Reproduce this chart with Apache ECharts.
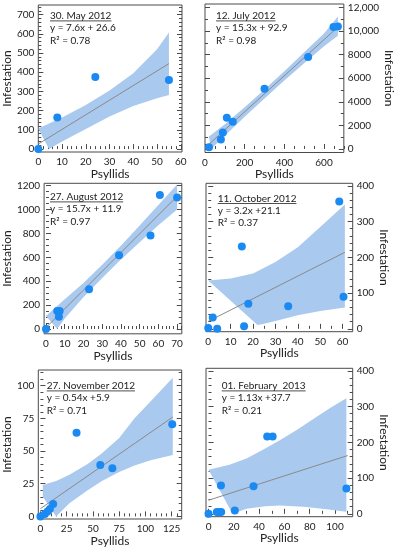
<!DOCTYPE html>
<html><head><meta charset="utf-8">
<script src="https://cdn.jsdelivr.net/npm/echarts@6/dist/echarts.min.js"></script>
<style>html,body{margin:0;padding:0;background:#fff}#c{width:396px;height:550px}</style>
</head><body><div id="c"></div>
<script>
// ---------- DATA ----------
// Panel 1
const p1Title = '30. May 2012', p1Eq = 'y = 7.6x + 26.6', p1R2 = 'R² = 0.78';
const p1X = [0, 8, 24, 55];
const p1Y = [0, 165, 375, 360];
const p1LineX = [0, 55], p1LineY = [26.6, 445];
const p1UpX = [0, 10, 20, 30, 40, 50, 55], p1UpY = [107, 165, 230, 305, 395, 520, 607];
const p1LoX = [4.5, 10, 20, 30, 40, 50, 55], p1LoY = [0, 40, 105, 170, 225, 265, 281];
const p1XTicks = [0, 10, 20, 30, 40, 50, 60];
const p1YTicks = [0, 100, 200, 300, 400, 500, 600, 700];
const p1YLabels = ['0', '100', '200', '300', '400', '500', '600', '700'];

// Panel 2
const p2Title = '12. July 2012', p2Eq = 'y = 15.3x + 92.9', p2R2 = 'R² = 0.98';
const p2X = [20, 80, 90, 110, 140, 300, 520, 648, 670];
const p2Y = [150, 800, 1400, 2650, 2300, 5100, 7800, 10350, 10400];
const p2LineX = [15, 675], p2LineY = [322, 10420];
const p2UpX = [20, 100, 200, 300, 400, 500, 600, 670], p2UpY = [1050, 2100, 3550, 5050, 6600, 8200, 9800, 11250];
const p2LoX = [30, 100, 200, 300, 400, 500, 600, 670], p2LoY = [0, 1130, 2730, 4280, 5800, 7270, 8720, 9600];
const p2XTicks = [0, 200, 400, 600];
const p2YTicks = [0, 2000, 4000, 6000, 8000, 10000, 12000];
const p2YLabels = ['0', '2000', '4000', '6000', '8000', '10,000', '12,000'];

// Panel 3
const p3Title = '27. August 2012', p3Eq = 'y = 15.7x + 11.9', p3R2 = 'R² = 0.97';
const p3X = [0, 6, 7.3, 6.9, 23, 39, 55.8, 60.8, 70];
const p3Y = [0, 151, 151, 103, 332, 617, 784, 1122, 1102];
const p3LineX = [0, 70], p3LineY = [12, 1111];
const p3UpX = [0, 10, 20, 30, 40, 50, 60, 70], p3UpY = [110, 249, 386, 538, 698, 867, 1039, 1210];
const p3LoX = [6, 10, 20, 30, 40, 50, 60, 70], p3LoY = [0, 89, 266, 428, 582, 727, 869, 1000];
const p3XTicks = [0, 10, 20, 30, 40, 50, 60, 70];
const p3YTicks = [0, 200, 400, 600, 800, 1000, 1200];
const p3YLabels = ['0', '200', '400', '600', '800', '1000', '1200'];

// Panel 4
const p4Title = '11. October 2012', p4Eq = 'y = 3.2x +21.1', p4R2 = 'R² = 0.37';
const p4X = [0, 2, 4, 15, 16, 17.9, 35.7, 58.5, 60.4];
const p4Y = [2, 32, 0, 230, 7, 70, 63, 356, 90];
const p4LineX = [0, 61], p4LineY = [21, 214];
const p4UpX = [0, 10, 20, 30, 40, 50, 61], p4UpY = [135, 141, 155, 187, 228, 285, 348];
const p4LoX = [22, 25, 30, 40, 50, 61], p4LoY = [11, 14, 22, 38, 50, 60];
const p4XTicks = [0, 10, 20, 30, 40, 50, 60];
const p4YTicks = [0, 100, 200, 300, 400];
const p4YLabels = ['0', '100', '200', '300', '400'];

// Panel 5
const p5Title = '27. November 2012', p5Eq = 'y = 0.54x +5.9', p5R2 = 'R² = 0.71';
const p5X = [0, 4.3, 6.8, 9, 12.1, 34.4, 57, 68.5, 125.5];
const p5Y = [0, 1.8, 3.8, 5.6, 9.5, 63.9, 39.4, 36.9, 70.5];
const p5LineX = [0, 126], p5LineY = [5.9, 76];
const p5UpX = [2.3, 15, 27.6, 45, 58.6, 75, 89.6, 105, 126], p5UpY = [24, 27, 31.8, 40, 48.3, 60, 75, 88, 106];
const p5LoX = [2.3, 15, 27.6, 45, 58.6, 75, 89.6, 105, 126], p5LoY = [15, 0, 10, 20, 27, 34, 39, 43, 47];
const p5XTicks = [0, 25, 50, 75, 100, 125];
const p5YTicks = [0, 25, 50, 75, 100];
const p5YLabels = ['0', '25', '50', '75', '100'];

// Panel 6
const p6Title = '01. February  2013', p6Eq = 'y = 1.13x +37.7', p6R2 = 'R² = 0.21';
const p6X = [0, 6.6, 8.2, 10, 9.8, 20.8, 35.6, 46.4, 50.7, 109];
const p6Y = [0, 5, 5, 5, 79, 9, 77, 216, 216, 71];
const p6LineX = [0, 110], p6LineY = [38, 163];
const p6UpX = [0, 16.6, 30, 43, 56, 69.4, 82, 95.8, 109], p6UpY = [123, 137, 155, 179, 205, 234, 263, 295, 323];
const p6LoX = [19, 30, 45, 56, 75, 90, 109], p6LoY = [0, 14, 21, 23, 20, 14, 6];
const p6XTicks = [0, 20, 40, 60, 80, 100];
const p6YTicks = [0, 100, 200, 300, 400];
const p6YLabels = ['0', '100', '200', '300', '400'];

const xName = 'Psyllids', yName = 'Infestation';

// ---------- LAYOUT ----------
const panels = [
  {t: p1Title, e: p1Eq, r: p1R2, x: p1X, y: p1Y, lx: p1LineX, ly: p1LineY, ux: p1UpX, uy: p1UpY, ox: p1LoX, oy: p1LoY, xt: p1XTicks, yt: p1YTicks, yl: p1YLabels},
  {t: p2Title, e: p2Eq, r: p2R2, x: p2X, y: p2Y, lx: p2LineX, ly: p2LineY, ux: p2UpX, uy: p2UpY, ox: p2LoX, oy: p2LoY, xt: p2XTicks, yt: p2YTicks, yl: p2YLabels},
  {t: p3Title, e: p3Eq, r: p3R2, x: p3X, y: p3Y, lx: p3LineX, ly: p3LineY, ux: p3UpX, uy: p3UpY, ox: p3LoX, oy: p3LoY, xt: p3XTicks, yt: p3YTicks, yl: p3YLabels},
  {t: p4Title, e: p4Eq, r: p4R2, x: p4X, y: p4Y, lx: p4LineX, ly: p4LineY, ux: p4UpX, uy: p4UpY, ox: p4LoX, oy: p4LoY, xt: p4XTicks, yt: p4YTicks, yl: p4YLabels},
  {t: p5Title, e: p5Eq, r: p5R2, x: p5X, y: p5Y, lx: p5LineX, ly: p5LineY, ux: p5UpX, uy: p5UpY, ox: p5LoX, oy: p5LoY, xt: p5XTicks, yt: p5YTicks, yl: p5YLabels},
  {t: p6Title, e: p6Eq, r: p6R2, x: p6X, y: p6Y, lx: p6LineX, ly: p6LineY, ux: p6UpX, uy: p6UpY, ox: p6LoX, oy: p6LoY, xt: p6XTicks, yt: p6YTicks, yl: p6YLabels}
];
const layout = [
  {left: 37, top: 5, width: 145, height: 147, xmin: 0, xmax: 60.5, ymin: -15, ymax: 750, side: 'left', xm: 2, ym: 20, xng: 14, yng: 22, tx: 50, ty: 15.7},
  {left: 205, top: 4, width: 144, height: 148.5, xmin: 0, xmax: 700, ymin: -300, ymax: 12300, side: 'right', xm: 50, ym: 1000, xng: 14, yng: 33, tx: 216, ty: 15.7},
  {left: 39.8, top: 183.3, width: 142, height: 150.5, xmin: -1, xmax: 72.5, ymin: -40, ymax: 1220, side: 'left', xm: 2, ym: 50, xng: 13, yng: 25, tx: 50, ty: 196.7},
  {left: 206, top: 183.3, width: 146.7, height: 148.4, xmin: -1, xmax: 64.5, ymin: -8, ymax: 407, side: 'right', xm: 5, ym: 20, xng: 15, yng: 23, tx: 217.7, ty: 198.3},
  {left: 35, top: 370, width: 146.7, height: 149, xmin: -2, xmax: 134.5, ymin: -2, ymax: 112, side: 'left', xm: 5, ym: 5, xng: 15, yng: 20, tx: 46.7, ty: 385.7},
  {left: 206, top: 368.3, width: 146.7, height: 148.4, xmin: -2, xmax: 114, ymin: -8, ymax: 407, side: 'right', xm: 10, ym: 20, xng: 14, yng: 22, tx: 221.7, ty: 385.7}
];

const FONT = 'Lato';
const AX = '#4a4a4a', TXT = '#222';
const BAND = '#a9c9ee', DOT = '#1a8af2', REG = '#8a8a8a';

function minorList(min, max, step, major) {
  const out = [];
  for (let v = Math.ceil(min / step) * step; v <= max + 1e-9; v += step) {
    const r = Math.round(v * 1000) / 1000;
    if (Math.abs(r / major - Math.round(r / major)) > 1e-6) out.push(r);
  }
  return out;
}

const grids = [], xAxes = [], yAxes = [], series = [], graphics = [];
const cv = document.createElement('canvas').getContext('2d');
const annFont = '10px ' + FONT;
cv.font = annFont;

panels.forEach((p, i) => {
  const L = layout[i];
  grids.push({left: L.left, top: L.top, width: L.width, height: L.height, show: true,
    borderColor: AX, borderWidth: 1, backgroundColor: 'rgba(0,0,0,0)'});
  const xc = {type: 'value', gridIndex: i, min: L.xmin, max: L.xmax, splitLine: {show: false}, axisLine: {show: false}, position: 'bottom'};
  const xmaj = p.xt[1] - p.xt[0];
  xAxes.push(Object.assign({}, xc, {
    axisTick: {show: true, inside: true, length: 5, customValues: p.xt, lineStyle: {color: AX}},
    axisLabel: {show: true, customValues: p.xt, formatter: v => String(v), fontSize: 10, fontFamily: FONT, color: TXT, margin: 5},
    name: xName, nameLocation: 'middle', nameGap: L.xng,
    nameTextStyle: {fontSize: 12, fontFamily: FONT, color: TXT}
  }));
  xAxes.push(Object.assign({}, xc, {
    axisTick: {show: true, inside: true, length: 3, customValues: minorList(L.xmin, L.xmax, L.xm, xmaj), lineStyle: {color: AX}},
    axisLabel: {show: false}
  }));
  const yc = {type: 'value', gridIndex: i, min: L.ymin, max: L.ymax, splitLine: {show: false}, axisLine: {show: false}};
  const ymaj = p.yt[1] - p.yt[0];
  const fmt = v => { const k = p.yt.indexOf(v); return k >= 0 ? p.yl[k] : String(v); };
  const ymin = minorList(L.ymin, L.ymax, L.ym, ymaj);
  ['left', 'right'].forEach(pos => {
    const lab = pos === L.side;
    yAxes.push(Object.assign({}, yc, {
      position: pos,
      axisTick: {show: true, inside: true, length: 5, customValues: p.yt, lineStyle: {color: AX}},
      axisLabel: {show: lab, customValues: p.yt, formatter: fmt, fontSize: 10, fontFamily: FONT, color: TXT, margin: 4},
      name: lab ? yName : '', nameLocation: 'middle', nameGap: L.yng, nameRotate: pos === 'left' ? 90 : -90,
      nameTextStyle: {fontSize: 12, fontFamily: FONT, color: TXT}
    }));
    yAxes.push(Object.assign({}, yc, {
      position: pos,
      axisTick: {show: true, inside: true, length: 3, customValues: ymin, lineStyle: {color: AX}},
      axisLabel: {show: false}
    }));
  });
  const xi = 2 * i, yi = 4 * i;
  series.push({
    type: 'custom', xAxisIndex: xi, yAxisIndex: yi, silent: true, z: 1,
    data: [[p.ux[0], p.uy[0]]],
    renderItem: (params, api) => {
      const pts = [];
      for (let k = 0; k < p.ux.length; k++) pts.push(api.coord([p.ux[k], p.uy[k]]));
      for (let k = p.ox.length - 1; k >= 0; k--) pts.push(api.coord([p.ox[k], p.oy[k]]));
      const cs = params.coordSys;
      return {type: 'polygon', shape: {points: pts}, style: {fill: BAND},
        clipPath: {type: 'rect', shape: {x: cs.x, y: cs.y, width: cs.width, height: cs.height}}};
    }
  });
  series.push({
    type: 'line', xAxisIndex: xi, yAxisIndex: yi, z: 2, silent: true,
    data: p.lx.map((v, k) => [v, p.ly[k]]), symbol: 'none',
    lineStyle: {color: REG, width: 1}
  });
  series.push({
    type: 'scatter', xAxisIndex: xi, yAxisIndex: yi, z: 3, clip: false,
    data: p.x.map((v, k) => [v, p.y[k]]), symbolSize: 8,
    itemStyle: {color: DOT, opacity: 1}
  });
  // annotation
  const lh = 12.3;
  [p.t, p.e, p.r].forEach((s, k) => {
    graphics.push({type: 'text', x: L.tx, y: L.ty + k * lh, z: 10,
      style: {text: s, font: annFont, fill: TXT, verticalAlign: 'middle', align: 'left'}});
  });
  const w = cv.measureText(p.t).width;
  graphics.push({type: 'line', z: 10, shape: {x1: L.tx, y1: L.ty + 5.2, x2: L.tx + w, y2: L.ty + 5.2},
    style: {stroke: TXT, lineWidth: 0.8}});
});

const chart = echarts.init(document.getElementById('c'), null, {renderer: 'canvas'});
chart.setOption({
  animation: false,
  backgroundColor: '#fff',
  textStyle: {fontFamily: FONT},
  grid: grids, xAxis: xAxes, yAxis: yAxes, series: series, graphic: graphics
});
</script></body></html>
